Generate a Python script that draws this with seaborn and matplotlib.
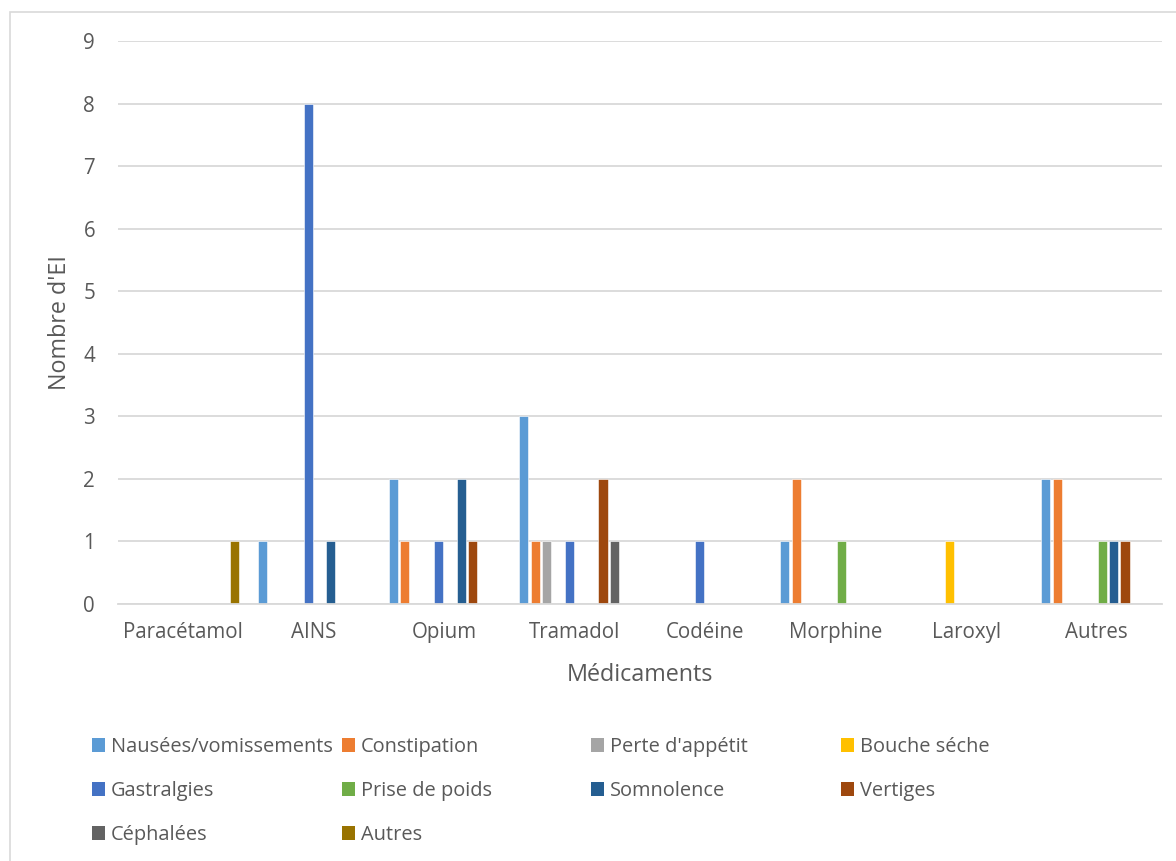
import matplotlib
matplotlib.use("Agg")
import matplotlib.pyplot as plt
from matplotlib.patches import Patch, Rectangle
import seaborn as sns
import pandas as pd

# ---- data ----
categories = ["Paracétamol", "AINS", "Opium", "Tramadol", "Codéine", "Morphine", "Laroxyl", "Autres"]
series = ["Nausées/vomissements", "Constipation", "Perte d'appétit", "Bouche séche",
          "Gastralgies", "Prise de poids", "Somnolence", "Vertiges", "Céphalées", "Autres"]
nausees      = [0, 1, 2, 3, 0, 1, 0, 2]
constipation = [0, 0, 1, 1, 0, 2, 0, 2]
perte        = [0, 0, 0, 1, 0, 0, 0, 0]
bouche       = [0, 0, 0, 0, 0, 0, 1, 0]
gastralgies  = [0, 8, 1, 1, 1, 0, 0, 0]
prise        = [0, 0, 0, 0, 0, 1, 0, 1]
somnolence   = [0, 1, 2, 0, 0, 0, 0, 1]
vertiges     = [0, 0, 1, 2, 0, 0, 0, 1]
cephalees    = [0, 0, 0, 1, 0, 0, 0, 0]
autres       = [1, 0, 0, 0, 0, 0, 0, 0]
values = [nausees, constipation, perte, bouche, gastralgies, prise, somnolence, vertiges, cephalees, autres]
colors = ["#5B9BD5", "#ED7D31", "#A5A5A5", "#FFC000", "#4472C4",
          "#70AD47", "#255E91", "#9E480E", "#636363", "#997300"]
yticks = list(range(0, 10))

rows = []
for s, vals in zip(series, values):
    for c, v in zip(categories, vals):
        rows.append({"Médicaments": c, "Série": s, "Valeur": v})
df = pd.DataFrame(rows)
df_draw = df[df["Valeur"] > 0]

sns.set_theme(style="white")
plt.rcParams["font.family"] = ["Open Sans", "DejaVu Sans"]
TXT = "#595959"
GRID = "#D9D9D9"
FS = 14.8
FS_LEG = 14.4
FS_LAB = 16.8

W, H = 1176, 861
fig = plt.figure(figsize=(W / 100, H / 100), dpi=100)
L, R, T, B = 118, 1162, 41, 604
ax = fig.add_axes([L / W, 1 - B / H, (R - L) / W, (B - T) / H])

palette = dict(zip(series, colors))
sns.barplot(data=df_draw, x="Médicaments", y="Valeur", hue="Série",
            order=categories, hue_order=series, palette=palette,
            width=0.866, gap=0.2, dodge=True, errorbar=None,
            edgecolor="white", linewidth=0.4, saturation=1, ax=ax, legend=False)

ax.set_xlim(-0.5, len(categories) - 0.5)
ax.set_ylim(0, 9)
ax.set_yticks(yticks)
ax.set_axisbelow(True)
ax.yaxis.grid(True, color=GRID, linewidth=1.3)
ax.xaxis.grid(False)
for side in ["left", "top", "right"]:
    ax.spines[side].set_visible(False)
ax.spines["bottom"].set_color(GRID)
ax.spines["bottom"].set_linewidth(1.3)
ax.tick_params(axis="y", length=0, pad=16.5, labelsize=FS, labelcolor=TXT)
ax.tick_params(axis="x", length=0, pad=13, labelsize=FS, labelcolor=TXT)

ax.set_ylabel("Nombre d'EI", fontsize=FS_LAB, color=TXT)
ax.set_xlabel("Médicaments", fontsize=FS_LAB, color=TXT)
ax.yaxis.label.set(ha="center", va="center")
ax.xaxis.label.set(ha="center", va="center")
ax.yaxis.set_label_coords((60 - L) / (R - L), 0.5)
ax.xaxis.set_label_coords(0.5, -(675 - B) / (B - T))

# legend: 4 fixed-width columns, row-major order like the reference
col_x = [91.7, 341.7, 591.0, 840.5]
ncol = 4
for ci in range(ncol):
    idx = list(range(ci, len(series), ncol))
    handles = [Patch(facecolor=colors[i], edgecolor="none") for i in idx]
    labels = [series[i] for i in idx]
    fig.legend(handles, labels, loc="upper left",
               bbox_to_anchor=(col_x[ci] / W, 1 - 737 / H),
               frameon=False, borderpad=0, borderaxespad=0,
               handlelength=0.67, handleheight=0.67, handletextpad=0.28,
               labelspacing=1.2, fontsize=FS_LEG, labelcolor=TXT)

fig.add_artist(Rectangle((10 / W, -0.05), 1.2, 1.05 - 12 / H, transform=fig.transFigure,
                         fill=False, edgecolor=GRID, linewidth=1.2))

fig.savefig("out.png", dpi=100)
